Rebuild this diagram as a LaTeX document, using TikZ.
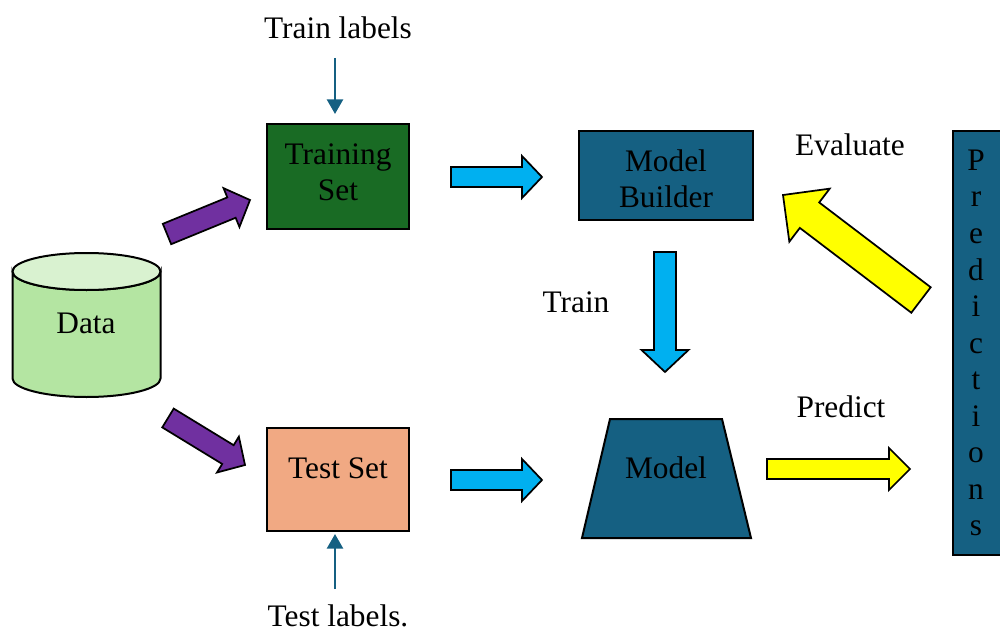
\documentclass[tikz,border=0pt]{standalone}
\usepackage{fontspec}
\setmainfont{Liberation Serif}
\usetikzlibrary{calc,shapes.geometric,arrows.meta}
\definecolor{tealbox}{HTML}{156082}
\definecolor{greenbox}{HTML}{196B24}
\definecolor{salmonbox}{HTML}{F1A983}
\definecolor{databody}{HTML}{B4E5A2}
\definecolor{datatop}{HTML}{D9F2D0}
\definecolor{purplearrc}{HTML}{7030A0}
\definecolor{cyanarrc}{HTML}{00B0F0}
\definecolor{yellowarrc}{HTML}{FFFF00}
\newcommand{\blockarrow}[7]{%
  \coordinate (#1-t) at (#3);
  \coordinate (#1-h) at (#4);
  \coordinate (#1-b) at ($(#1-h)!#7!(#1-t)$);
  \draw[#2] ($(#1-t)!#5!90:(#1-h)$) -- ($(#1-b)!#5!90:(#1-h)$) -- ($(#1-b)!#6!90:(#1-h)$)
    -- (#1-h) -- ($(#1-b)!#6!-90:(#1-h)$) -- ($(#1-b)!#5!-90:(#1-h)$) -- ($(#1-t)!#5!-90:(#1-h)$) -- cycle;
}
\tikzset{
  lbl/.style={font=\fontsize{23.5}{27}\selectfont, inner sep=0pt, align=center},
  box/.style={draw=black, line width=1.5pt, inner sep=0pt},
  blockarr/.style={draw=black, line width=1.3pt, line join=miter},
  purplearr/.style={blockarr, fill=purplearrc},
  cyanarr/.style={blockarr, fill=cyanarrc},
  yellowarr/.style={blockarr, fill=yellowarrc},
  thinarrow/.style={draw=tealbox, line width=2pt, -{Triangle[length=11pt,width=12pt]}},
}
\begin{document}
\begin{tikzpicture}[x=0.75pt,y=-0.75pt]
\useasboundingbox (0,0) rectangle (1000,635);
\clip (0,0) rectangle (1000,635);

% Data cylinder
\filldraw[fill=databody, draw=black, line width=1.5pt]
  (12.5,271.5) -- (12.5,378.5) arc[start angle=180, end angle=0, x radius=74, y radius=18.5]
  -- (160.5,271.5) arc[start angle=0, end angle=180, x radius=74, y radius=18.5] -- cycle;
\filldraw[fill=datatop, draw=black, line width=1.5pt] (86.5,271.5) ellipse[x radius=74, y radius=18.5];
\node[lbl] (data) at (86,323) {Data};

% boxes
\node[box, fill=greenbox, minimum width=106.5pt, minimum height=78.75pt] (train) at (338,176.5) {};
\node[lbl] (traintxt) at (338,172) {Training\\Set};
\node[box, fill=salmonbox, minimum width=106.5pt, minimum height=77.25pt] (test) at (338,479.5) {};
\node[lbl] (testtxt) at (338,468) {Test Set};
\node[box, fill=tealbox, minimum width=130.5pt, minimum height=66.75pt] (builder) at (666,175.5) {};
\node[lbl] (buildertxt) at (666,179) {Model\\Builder};
\filldraw[fill=tealbox, draw=black, line width=1.5pt] (610,419) -- (722,419) -- (751,538) -- (582,538) -- cycle;
\node[lbl] (model) at (666,468) {Model};
\node[box, fill=tealbox, minimum width=39pt, minimum height=318pt] (pred) at (979,343) {};
\node[lbl, font=\fontsize{23.5}{27.4}\selectfont] (predtxt) at (976,343) {P\\r\\e\\d\\i\\c\\t\\i\\o\\n\\s};

% labels
\node[lbl] (trainlbl) at (338,28) {Train labels};
\node[lbl] (testlbl) at (338,616) {Test labels.};
\node[lbl] (evallbl) at (850,145) {Evaluate};
\node[lbl] (trainword) at (576,302) {Train};
\node[lbl] (predictlbl) at (841,407) {Predict};

% thin arrows
\coordinate (trainarrs) at (335,58);
\coordinate (testarrs) at (335,589);
\draw[thinarrow, shorten >=6.75pt] (trainarrs) -- (trainarrs |- train.north);
\draw[thinarrow, shorten >=1.5pt] (testarrs) -- (testarrs |- test.south);

% block arrows
\blockarrow{pa1}{purplearr}{167,234}{250,200}{8.25pt}{15.75pt}{15pt}
\blockarrow{pa2}{purplearr}{168,418}{245,465}{8.25pt}{15.75pt}{15pt}
\blockarrow{ca1}{cyanarr}{451,177}{542,177}{7.5pt}{15.75pt}{15pt}
\blockarrow{ca2}{cyanarr}{451,480}{542,480}{7.5pt}{15.75pt}{15pt}
\blockarrow{ca3}{cyanarr}{665,252}{665,372}{8.25pt}{17.6pt}{16.5pt}
\blockarrow{ya1}{yellowarr}{921,300}{783,195}{12pt}{25pt}{25pt}
\blockarrow{ya2}{yellowarr}{767,469}{910,469}{7.5pt}{15.75pt}{15.75pt}
\end{tikzpicture}
\end{document}
